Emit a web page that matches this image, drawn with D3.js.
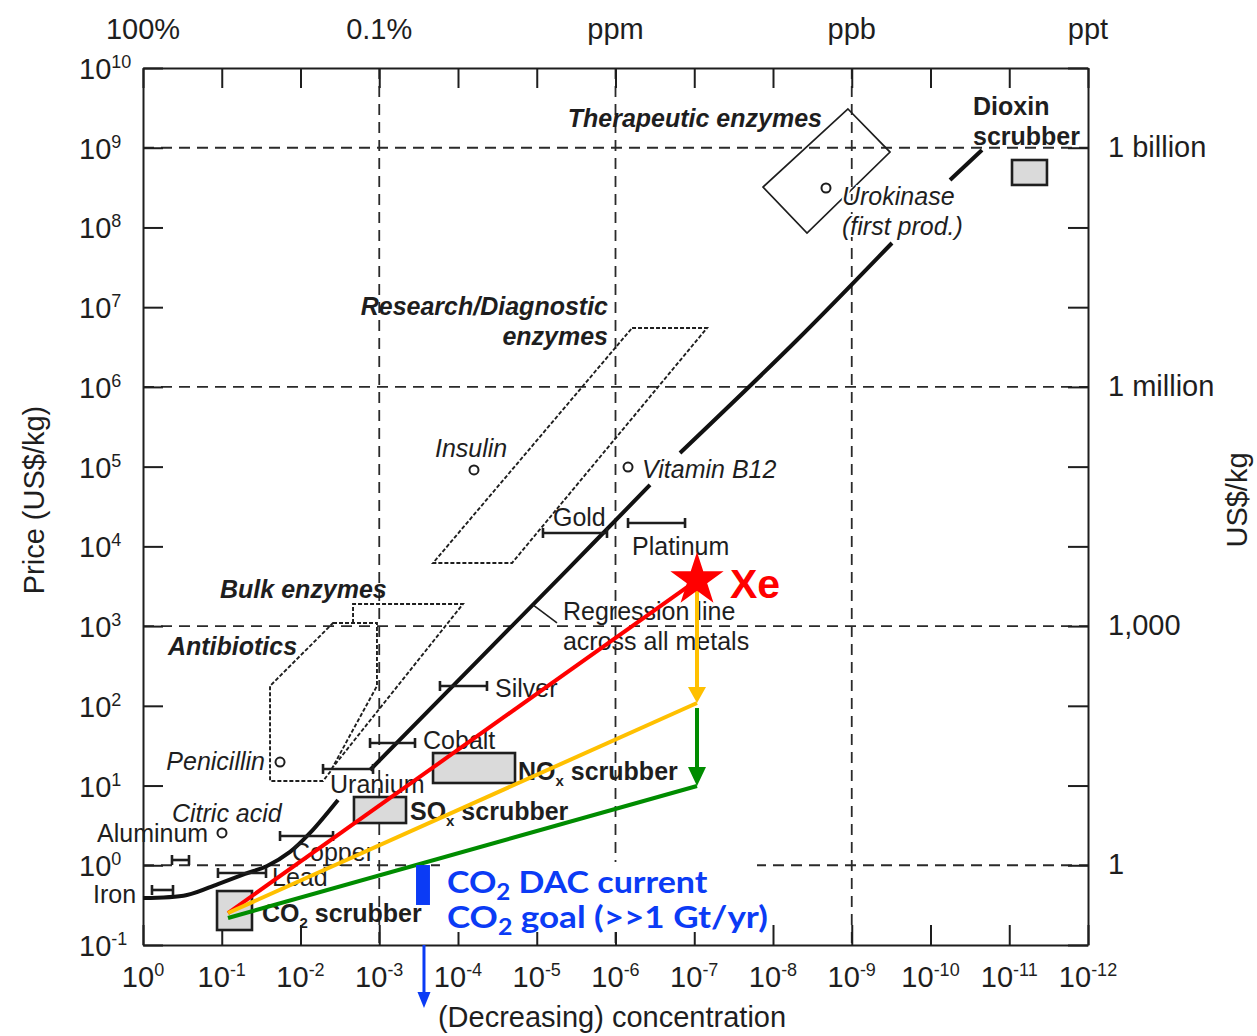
<!DOCTYPE html>
<html><head><meta charset="utf-8">
<script src="https://cdn.jsdelivr.net/npm/d3@7"></script>
<style>
body{margin:0;background:#fff}
text{font-family:"Liberation Sans",Arial,Helvetica,sans-serif;fill:#1e1e1e}
</style>
</head><body>
<svg id="chart" width="1257" height="1036"></svg>
<script>
// ---------------- DATA (log10 values) ----------------
const concTickExps  = [0,-1,-2,-3,-4,-5,-6,-7,-8,-9,-10,-11,-12];
const priceTickExps = [-1,0,1,2,3,4,5,6,7,8,9,10];
const topLabels     = ["100%","0.1%","ppm","ppb","ppt"];
const topLabelExps  = [0,-3,-6,-9,-12];
const rightLabels   = ["1 billion","1 million","1,000","1"];
const rightLabelExps= [9,6,3,0];
const gridConcExps  = [-3,-6,-9];
const gridPriceExps = [9,6,3,0];

// regression line across all metals: [log conc, log price]
const regressionSegments = [
  [[0,-0.411],[-0.559,-0.373],[-0.952,-0.235],[-1.295,-0.109],[-1.575,-0.009],[-1.867,0.167],[-2.121,0.405],[-2.476,0.819]],
  [[-2.883,1.195],[-5.384,3.703],[-6.438,4.770]],
  [[-6.819,5.171],[-8.305,6.588],[-9.511,7.805]],
  [[-10.248,8.595],[-10.654,8.971]]
];

// metals: concentration range (log) and price (log)
const metals = [
  {name:"Iron",     lo:-0.114, hi:-0.381, p:-0.310},
  {name:"Aluminum", lo:-0.368, hi:-0.584, p:0.066},
  {name:"Lead",     lo:-0.952, hi:-1.562, p:-0.097},
  {name:"Copper",   lo:-1.740, hi:-2.413, p:0.367},
  {name:"Uranium",  lo:-2.286, hi:-2.921, p:1.208},
  {name:"Cobalt",   lo:-2.883, hi:-3.454, p:1.534},
  {name:"Silver",   lo:-3.771, hi:-4.368, p:2.249},
  {name:"Gold",     lo:-5.079, hi:-5.892, p:4.168},
  {name:"Platinum", lo:-6.159, hi:-6.883, p:4.293}
];

// single products
const products = [
  {name:"Insulin",     c:-4.203, p:4.958},
  {name:"Vitamin B12", c:-6.159, p:4.995},
  {name:"Urokinase",   c:-8.673, p:8.495},
  {name:"Penicillin",  c:-1.740, p:1.295},
  {name:"Citric acid", c:-1.003, p:0.405}
];

// scrubber boxes: conc range, price range
const scrubbers = [
  {name:"CO2",    c1:-0.940,  c2:-1.384,  p1:-0.323, p2:-0.812},
  {name:"SOx",    c1:-2.679,  c2:-3.340,  p1:0.856,  p2:0.530},
  {name:"NOx",    c1:-3.683,  c2:-4.724,  p1:1.408,  p2:1.032},
  {name:"Dioxin", c1:-11.035, c2:-11.479, p1:8.846,  p2:8.533}
];

// enzyme / antibiotic regions (polygons)
const therapeuticRegion = [[-8.952,9.486],[-9.486,8.946],[-8.432,7.930],[-7.873,8.507]];
const researchRegion    = [[-6.210,6.739],[-7.162,6.739],[-4.686,3.791],[-3.683,3.791]];
const bulkRegion        = [[-2.667,3.039],[-2.667,3.277],[-4.063,3.277],[-2.413,1.233]];
const antibioticRegion  = [[-2.413,3.039],[-2.971,3.039],[-2.971,2.249],[-2.375,1.170],[-2.286,1.057],[-1.613,1.057],[-1.613,2.249]];

// Xe / DAC steps
const xeConc = -7.035;
const stepPrices = [3.578, 2.035, 0.994];   // Xe price, step 1, step 2
const originRed = [-1.079,-0.599], originOrange = [-1.079,-0.599], originGreen = [-1.079,-0.661];
const dacBar = {c1:-3.467, c2:-3.644, p1:0.003, p2:-0.498};
const dacArrow = {c:-3.568, p1:-1.0, p2:-1.79};

// ---------------- SCALES ----------------
const svg = d3.select("#chart");
const x = d3.scaleLog().domain([1,1e-12]).range([143,1088]);
const y = d3.scaleLog().domain([1e-1,1e10]).range([945,68]);
const X = e => x(Math.pow(10,e)), Y = e => y(Math.pow(10,e));
const INK = "#1e1e1e";

function rich(sel, str, o){
  const re=/([_^])\{([^}]*)\}/g; let last=0,m,off=0;
  const add=(txt,dy,size)=>{const ts=sel.append("tspan").text(txt); if(dy) ts.attr("dy",dy); if(size) ts.attr("font-size",size); return ts;};
  while((m=re.exec(str))!==null){
    if(m.index>last){ add(str.slice(last,m.index), -off); off=0; }
    const isSub=m[1]==="_"; const target=isSub?o.subDy:-o.supDy;
    add(m[2], target-off, isSub?o.subSize:o.supSize); off=target;
    last=re.lastIndex;
  }
  if(last<str.length){ add(str.slice(last), -off); }
}

// ---------------- GRID ----------------
const grid = svg.append("g").attr("stroke","#2a2a2a").attr("stroke-width",1.8).attr("stroke-dasharray","11,7");
grid.selectAll("line.h").data(gridPriceExps).join("line").attr("class","h")
  .attr("x1",X(0)).attr("x2",X(-12)).attr("y1",d=>Y(d)).attr("y2",d=>Y(d));
grid.selectAll("line.v").data(gridConcExps).join("line").attr("class","v")
  .attr("y1",Y(10)).attr("y2",Y(-1)).attr("x1",d=>X(d)).attr("x2",d=>X(d));

// ---------------- AXES ----------------
const tv = concTickExps.map(e=>Math.pow(10,e)), pv = priceTickExps.map(e=>Math.pow(10,e));
function styleAxis(g){ g.selectAll("path,line").attr("stroke",INK).attr("stroke-width",2); g.selectAll("text").remove(); }
svg.append("g").attr("transform",`translate(0,${Y(-1)})`).call(d3.axisBottom(x).tickValues(tv).tickSizeInner(-20).tickSizeOuter(0).tickFormat("")).call(styleAxis);
svg.append("g").attr("transform",`translate(0,${Y(10)})`).call(d3.axisTop(x).tickValues(tv).tickSizeInner(-20).tickSizeOuter(0).tickFormat("")).call(styleAxis);
svg.append("g").attr("transform",`translate(${X(0)},0)`).call(d3.axisLeft(y).tickValues(pv).tickSizeInner(-20).tickSizeOuter(0).tickFormat("")).call(styleAxis);
svg.append("g").attr("transform",`translate(${X(-12)},0)`).call(d3.axisRight(y).tickValues(pv).tickSizeInner(-20).tickSizeOuter(0).tickFormat("")).call(styleAxis);

const axisFont = 29;
const supO = {supSize:18, supDy:11, subSize:18, subDy:6};
concTickExps.forEach(e=>{
  const t=svg.append("text").attr("x",X(e)).attr("y",987).attr("text-anchor","middle").attr("font-size",axisFont);
  rich(t, `10^{${e}}`, supO);
});
priceTickExps.forEach(e=>{
  const t=svg.append("text").attr("x",79).attr("y",Y(e)+11).attr("font-size",axisFont);
  rich(t, `10^{${e}}`, supO);
});
topLabels.forEach((s,i)=>{
  svg.append("text").attr("x",X(topLabelExps[i])).attr("y",39).attr("text-anchor","middle").attr("font-size",axisFont).text(s);
});
rightLabels.forEach((s,i)=>{
  svg.append("text").attr("x",1108).attr("y",Y(rightLabelExps[i])+9).attr("font-size",axisFont).text(s);
});
svg.append("text").attr("transform","translate(44,500) rotate(-90)").attr("text-anchor","middle").attr("font-size",29).text("Price (US$/kg)");
svg.append("text").attr("transform","translate(1247,500) rotate(-90)").attr("text-anchor","middle").attr("font-size",29).text("US$/kg");
svg.append("text").attr("x",612).attr("y",1027).attr("text-anchor","middle").attr("font-size",29).text("(Decreasing) concentration");

// ---------------- REGIONS ----------------
const lineGen = d3.line().x(d=>X(d[0])).y(d=>Y(d[1]));
svg.append("path").attr("d",lineGen(therapeuticRegion)+"Z").attr("fill","none").attr("stroke",INK).attr("stroke-width",1.7);
svg.append("path").attr("d",lineGen(researchRegion)+"Z").attr("fill","none").attr("stroke",INK).attr("stroke-width",1.9).attr("stroke-dasharray","4,2");
svg.append("path").attr("d",lineGen(bulkRegion)).attr("fill","none").attr("stroke",INK).attr("stroke-width",1.9).attr("stroke-dasharray","4,2");
svg.append("path").attr("d",lineGen(antibioticRegion)+"Z").attr("fill","none").attr("stroke",INK).attr("stroke-width",1.9).attr("stroke-dasharray","4,2");

// ---------------- REGRESSION LINE ----------------
const curveGen = d3.line().x(d=>X(d[0])).y(d=>Y(d[1])).curve(d3.curveCatmullRom);
svg.append("g").selectAll("path").data(regressionSegments).join("path")
  .attr("d",curveGen).attr("fill","none").attr("stroke","#111").attr("stroke-width",4);
// leader from regression line to its label
svg.append("line").attr("x1",X(-4.952)).attr("y1",Y(3.265)).attr("x2",X(-5.257)).attr("y2",Y(3.039)).attr("stroke",INK).attr("stroke-width",1.6);

// ---------------- METALS (range bars) ----------------
const mg = svg.append("g").attr("stroke",INK).attr("stroke-width",2.6);
metals.forEach(m=>{
  mg.append("line").attr("x1",X(m.lo)).attr("x2",X(m.hi)).attr("y1",Y(m.p)).attr("y2",Y(m.p));
  [m.lo,m.hi].forEach(c=>mg.append("line").attr("x1",X(c)).attr("x2",X(c)).attr("y1",Y(m.p)-5).attr("y2",Y(m.p)+5));
});

// ---------------- SCRUBBER BOXES ----------------
svg.append("g").selectAll("rect").data(scrubbers).join("rect")
  .attr("x",d=>X(d.c1)).attr("y",d=>Y(d.p1)).attr("width",d=>X(d.c2)-X(d.c1)).attr("height",d=>Y(d.p2)-Y(d.p1))
  .attr("fill","#dadada").attr("stroke",INK).attr("stroke-width",2.6);

// ---------------- PRODUCTS (circles) ----------------
svg.append("g").selectAll("circle").data(products).join("circle")
  .attr("cx",d=>X(d.c)).attr("cy",d=>Y(d.p)).attr("r",4.5).attr("fill","#fff").attr("stroke",INK).attr("stroke-width",2);

// ---------------- LABELS ----------------
const labels = [
  {t:"Therapeutic enzymes", c:-8.622, p:9.260, a:"end", w:"bold", s:"italic"},
  {t:"Research/Diagnostic", c:-5.905, p:6.902, a:"end", w:"bold", s:"italic"},
  {t:"enzymes",             c:-5.905, p:6.526, a:"end", w:"bold", s:"italic"},
  {t:"Bulk enzymes",        c:-0.978, p:3.352, w:"bold", s:"italic"},
  {t:"Antibiotics",         c:-0.317, p:2.637, w:"bold", s:"italic"},
  {t:"Insulin",             c:-3.708, p:5.121, s:"italic"},
  {t:"Vitamin B12",         c:-6.337, p:4.857, s:"italic"},
  {t:"Urokinase",           c:-8.876, p:8.282, s:"italic", halo:true},
  {t:"(first prod.)",       c:-8.876, p:7.905, s:"italic", halo:true},
  {t:"Penicillin",          c:-1.549, p:1.195, a:"end", s:"italic"},
  {t:"Citric acid",         c:-0.368, p:0.543, s:"italic"},
  {t:"Dioxin",              c:-10.540, p:9.410, w:"bold"},
  {t:"scrubber",            c:-10.540, p:9.034, w:"bold"},
  {t:"NO_{x} scrubber",     c:-4.762, p:1.070, w:"bold"},
  {t:"SO_{x} scrubber",     c:-3.390, p:0.568, w:"bold"},
  {t:"CO_{2} scrubber",     c:-1.511, p:-0.711, w:"bold"},
  {t:"Gold",                c:-5.206, p:4.255},
  {t:"Platinum",            c:-6.210, p:3.892},
  {t:"Silver",              c:-4.470, p:2.111},
  {t:"Cobalt",              c:-3.556, p:1.458},
  {t:"Uranium",             c:-2.375, p:0.907},
  {t:"Copper",              c:-1.892, p:0.050},
  {t:"Lead",                c:-1.638, p:-0.265},
  {t:"Aluminum",            c:0.584,  p:0.292},
  {t:"Iron",                c:0.635,  p:-0.475},
  {t:"Regression line",     c:-5.333, p:3.076},
  {t:"across all metals",   c:-5.333, p:2.700}
];
labels.forEach(L=>{
  const t=svg.append("text").attr("x",X(L.c)).attr("y",Y(L.p)).attr("font-size",25)
    .attr("text-anchor",L.a||"start").attr("font-weight",L.w||"normal").attr("font-style",L.s||"normal");
  if(L.halo) t.attr("stroke","#fff").attr("stroke-width",4).attr("paint-order","stroke");
  rich(t, L.t, {subSize:15, subDy:6, supSize:15, supDy:10});
});

// ---------------- Xe PATHWAYS ----------------
const RED="#ff0000", ORANGE="#ffc000", GREEN="#008c00", BLUE="#0b3bf5";
function arrowHead(cx, tipY, w, h, col){
  svg.append("path").attr("d",`M${cx-w/2},${tipY-h}L${cx+w/2},${tipY-h}L${cx},${tipY}Z`).attr("fill",col);
}
const xePx = X(xeConc);
svg.append("line").attr("x1",X(originRed[0])).attr("y1",Y(originRed[1])).attr("x2",xePx).attr("y2",Y(stepPrices[0]))
  .attr("stroke",RED).attr("stroke-width",4);
svg.append("line").attr("x1",xePx).attr("x2",xePx).attr("y1",Y(stepPrices[0])).attr("y2",Y(stepPrices[1])-14)
  .attr("stroke",ORANGE).attr("stroke-width",4);
arrowHead(xePx, Y(stepPrices[1]), 18, 16, ORANGE);
svg.append("line").attr("x1",X(originOrange[0])).attr("y1",Y(originOrange[1])).attr("x2",xePx).attr("y2",Y(stepPrices[1]))
  .attr("stroke",ORANGE).attr("stroke-width",4);
svg.append("line").attr("x1",xePx).attr("x2",xePx).attr("y1",Y(stepPrices[1])+5).attr("y2",Y(stepPrices[2])-16)
  .attr("stroke",GREEN).attr("stroke-width",4);
arrowHead(xePx, Y(stepPrices[2]), 18, 19, GREEN);
svg.append("line").attr("x1",X(originGreen[0])).attr("y1",Y(originGreen[1])).attr("x2",xePx).attr("y2",Y(stepPrices[2]))
  .attr("stroke",GREEN).attr("stroke-width",4);
svg.append("path").attr("d",d3.symbol().type(d3.symbolStar).size(880)())
  .attr("transform",`translate(${xePx},${Y(stepPrices[0])})`).attr("fill",RED);
svg.append("text").attr("x",X(-7.454)).attr("y",Y(3.352)).attr("font-size",41).attr("font-weight","bold")
  .style("fill",RED).text("Xe");

// ---------------- DAC annotation ----------------
svg.append("rect").attr("x",X(-3.771)).attr("y",Y(0.041)).attr("width",X(-7.797)-X(-3.771)).attr("height",Y(-0.837)-Y(0.041)).attr("fill","#fff");
svg.append("rect").attr("x",X(dacBar.c1)).attr("y",Y(dacBar.p1)).attr("width",X(dacBar.c2)-X(dacBar.c1)).attr("height",Y(dacBar.p2)-Y(dacBar.p1)).attr("fill",BLUE);
svg.append("line").attr("x1",X(dacArrow.c)).attr("x2",X(dacArrow.c)).attr("y1",Y(dacArrow.p1)).attr("y2",Y(dacArrow.p2)-12)
  .attr("stroke",BLUE).attr("stroke-width",3);
arrowHead(X(dacArrow.c), Y(dacArrow.p2), 13, 16, BLUE);

function fitWidth(t, target){
  const w=t.node().getBBox().width, x0=+t.attr("x");
  t.attr("transform",`translate(${x0},0) scale(${target/w},1) translate(${-x0},0)`);
}
const blueLines = [["CO_{2} DAC current",-0.348,261],["CO_{2} goal (>>1 Gt/yr)",-0.787,321]];
blueLines.forEach(([s,p,wd])=>{
  const t=svg.append("text").attr("x",X(-3.860)).attr("y",Y(p)).attr("font-size",31).attr("font-weight","bold")
    .style("font-family","Lato, 'Open Sans', sans-serif").style("fill",BLUE);
  rich(t, s, {subSize:22, subDy:7, supSize:22, supDy:10});
  fitWidth(t, wd);
});
</script>
</body></html>
